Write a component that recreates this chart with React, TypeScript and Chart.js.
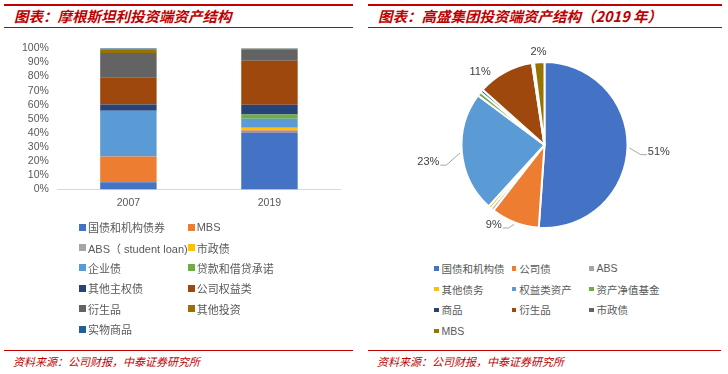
import React, { useEffect, useRef } from "react";
import { Chart, registerables } from "chart.js";

Chart.register(...registerables);

// ---------- Data: left panel (Morgan Stanley) ----------
const barCategories = ["2007", "2019"];
const barSeriesNames = [
  "国债和机构债券",
  "MBS",
  "ABS（ student loan)",
  "市政债",
  "企业债",
  "贷款和借贷承诺",
  "其他主权债",
  "公司权益类",
  "衍生品",
  "其他投资",
  "实物商品",
];
const barColors = [
  "#4472C4",
  "#ED7D31",
  "#A5A5A5",
  "#FFC000",
  "#5B9BD5",
  "#70AD47",
  "#264478",
  "#9E480E",
  "#636363",
  "#997300",
  "#255E91",
];
const values2007 = [5.0, 18.4, 0, 0, 32.3, 0, 4.4, 19.4, 17.1, 2.8, 0.6];
const values2019 = [40.4, 1.4, 0.3, 1.6, 6.3, 3.0, 7.0, 31.1, 8.2, 0.4, 0.3];
const yTickStep = 10;
const yMax = 100;

// ---------- Data: right panel (Goldman Sachs 2019) ----------
const pieLabels = [
  "国债和机构债",
  "公司债",
  "ABS",
  "其他债务",
  "权益类资产",
  "资产净值基金",
  "商品",
  "衍生品",
  "市政债",
  "MBS",
];
const pieValues = [50.8, 9.4, 0.6, 0.6, 23.3, 0.8, 0.6, 10.9, 0.4, 2.0];
const pieColors = [
  "#4472C4",
  "#ED7D31",
  "#A5A5A5",
  "#FFC000",
  "#5B9BD5",
  "#70AD47",
  "#264478",
  "#9E480E",
  "#636363",
  "#997300",
];

// label placement (style): offset of label centre from slice's outer edge midpoint
const pieLabelPlacement: ({ dx: number; dy: number; leader: boolean } | null)[] = [
  { dx: 31.4, dy: 3.8, leader: true },
  { dx: -21, dy: 2.5, leader: true },
  null,
  null,
  { dx: -33.6, dy: 9.3, leader: true },
  null,
  null,
  { dx: -24.9, dy: 0.1, leader: false },
  null,
  { dx: -0.7, dy: -9.9, leader: false },
];

const RED = "#C00000";
const LATIN = '"Liberation Sans", Arial, "Noto Sans CJK SC", sans-serif';
const CJK = '"Noto Sans CJK SC", "Liberation Sans", sans-serif';

const pieLabelPlugin = {
  id: "pieLabelPlugin",
  afterDatasetsDraw(chart: any) {
    const ctx = chart.ctx;
    const meta = chart.getDatasetMeta(0);
    const data = chart.data.datasets[0].data as number[];
    const total = data.reduce((a, b) => a + b, 0);
    ctx.save();
    ctx.font = '11px "Liberation Sans", Arial, sans-serif';
    ctx.textBaseline = "middle";
    ctx.textAlign = "center";
    meta.data.forEach((arc: any, i: number) => {
      const cfg = pieLabelPlacement[i];
      if (!cfg) return;
      const p = arc.getProps(["x", "y", "startAngle", "endAngle", "outerRadius"], true);
      const mid = (p.startAngle + p.endAngle) / 2;
      const ex = p.x + Math.cos(mid) * p.outerRadius;
      const ey = p.y + Math.sin(mid) * p.outerRadius;
      const tx = ex + cfg.dx;
      const ty = ey + cfg.dy;
      const text = Math.round((data[i] / total) * 100) + "%";
      const w = ctx.measureText(text).width;
      if (cfg.leader) {
        const side = cfg.dx > 0 ? 1 : -1;
        const nearX = tx - (side * w) / 2;
        ctx.beginPath();
        ctx.strokeStyle = "#A6A6A6";
        ctx.lineWidth = 1;
        ctx.moveTo(ex + Math.cos(mid) * 2, ey + Math.sin(mid) * 2);
        ctx.lineTo(nearX - side * 7, ty + 3);
        ctx.lineTo(nearX - side * 1, ty + 3);
        ctx.stroke();
      }
      ctx.fillStyle = "#404040";
      ctx.fillText(text, tx, ty);
    });
    ctx.restore();
  },
};

function BarChart() {
  const ref = useRef<HTMLCanvasElement | null>(null);
  useEffect(() => {
    if (!ref.current) return;
    const chart = new Chart(ref.current, {
      type: "bar",
      data: {
        labels: barCategories,
        datasets: barSeriesNames.map((name, i) => ({
          label: name,
          data: [values2007[i], values2019[i]],
          backgroundColor: barColors[i],
          borderWidth: 0,
          categoryPercentage: 1,
          barPercentage: 0.4,
        })),
      },
      options: {
        animation: false,
        responsive: false,
        maintainAspectRatio: false,
        layout: { padding: { left: 13, right: 24, top: 0, bottom: 6 } },
        plugins: { legend: { display: false }, tooltip: { enabled: false } },
        scales: {
          x: {
            stacked: true,
            grid: { display: false, drawTicks: false },
            border: { display: true, color: "#D9D9D9", width: 1 },
            ticks: {
              color: "#595959",
              font: { family: LATIN, size: 10.5 },
              padding: 7,
            },
          },
          y: {
            stacked: true,
            min: 0,
            max: yMax,
            grid: { display: false, drawTicks: false },
            border: { display: false },
            ticks: {
              stepSize: yTickStep,
              autoSkip: false,
              color: "#595959",
              font: { family: LATIN, size: 10.5 },
              padding: 9,
              callback: (v: any) => `${v}%`,
            },
          },
        },
      },
    });
    return () => chart.destroy();
  }, []);
  return (
    <canvas
      ref={ref}
      width={364}
      height={189}
      style={{ position: "absolute", left: 0, top: 33, width: 364, height: 189 }}
    />
  );
}

function PieChart() {
  const ref = useRef<HTMLCanvasElement | null>(null);
  useEffect(() => {
    if (!ref.current) return;
    const chart = new Chart(ref.current, {
      type: "pie",
      data: {
        labels: pieLabels,
        datasets: [
          {
            data: pieValues,
            backgroundColor: pieColors,
            borderColor: "#FFFFFF",
            borderWidth: 2,
          },
        ],
      },
      options: {
        animation: false,
        responsive: false,
        maintainAspectRatio: false,
        layout: { padding: { left: 96.5, right: 99.5, top: 26, bottom: 21 } },
        plugins: { legend: { display: false }, tooltip: { enabled: false } },
      },
      plugins: [pieLabelPlugin],
    });
    return () => chart.destroy();
  }, []);
  return (
    <canvas
      ref={ref}
      width={364}
      height={215}
      style={{ position: "absolute", left: 364, top: 35, width: 364, height: 215 }}
    />
  );
}

function Header({ left, width, title }: { left: number; width: number; title: string }) {
  return (
    <>
      <div style={{ position: "absolute", left, top: 4, width, height: 2, background: RED }} />
      <div
        style={{
          position: "absolute",
          left: left + 10,
          top: 7,
          height: 18,
          lineHeight: "18px",
          fontFamily: CJK,
          fontWeight: 700,
          fontStyle: "italic",
          fontSize: 14.5,
          color: RED,
          whiteSpace: "nowrap",
        }}
      >
        {title}
      </div>
      <div style={{ position: "absolute", left, top: 27, width, height: 1, background: RED }} />
    </>
  );
}

function Footer({ left, width }: { left: number; width: number }) {
  return (
    <>
      <div style={{ position: "absolute", left, top: 350, width, height: 1, background: RED }} />
      <div
        style={{
          position: "absolute",
          left: left + 9,
          top: 355,
          lineHeight: "13px",
          fontFamily: CJK,
          fontStyle: "italic",
          fontSize: 11,
          color: RED,
          whiteSpace: "nowrap",
        }}
      >
        资料来源：公司财报，中泰证券研究所
      </div>
    </>
  );
}

function Legend({
  names,
  colors,
  left,
  top,
  colWidths,
  rowHeight,
  box,
  gap,
  fontSize,
}: {
  names: string[];
  colors: string[];
  left: number;
  top: number;
  colWidths: number[];
  rowHeight: number;
  box: number;
  gap: number;
  fontSize: number;
}) {
  const cols = colWidths.length;
  return (
    <div style={{ position: "absolute", left, top }}>
      {names.map((n, i) => {
        const c = i % cols;
        const r = Math.floor(i / cols);
        const x = colWidths.slice(0, c).reduce((a, b) => a + b, 0);
        return (
          <div
            key={n}
            style={{
              position: "absolute",
              left: x,
              top: r * rowHeight,
              height: rowHeight,
              display: "flex",
              alignItems: "center",
              whiteSpace: "nowrap",
              fontFamily: LATIN,
              fontSize,
              color: "#595959",
            }}
          >
            <span
              style={{
                display: "inline-block",
                width: box,
                height: box,
                background: colors[i],
                marginRight: gap,
              }}
            />
            <span>{n}</span>
          </div>
        );
      })}
    </div>
  );
}

export default function App() {
  return (
    <div
      style={{
        position: "fixed",
        left: 0,
        top: 0,
        width: 728,
        height: 374,
        background: "#FFFFFF",
        overflow: "hidden",
      }}
    >
      <Header left={4} width={349} title="图表：摩根斯坦利投资端资产结构" />
      <Header left={368} width={354} title="图表：高盛集团投资端资产结构（2019 年）" />
      <BarChart />
      <PieChart />
      <Legend
        names={barSeriesNames}
        colors={barColors}
        left={79}
        top={217}
        colWidths={[108.7, 108.7]}
        rowHeight={20.4}
        box={7}
        gap={2}
        fontSize={11}
      />
      <Legend
        names={pieLabels}
        colors={pieColors}
        left={434}
        top={258}
        colWidths={[77.7, 77.3, 80]}
        rowHeight={20.8}
        box={4.5}
        gap={3}
        fontSize={10.5}
      />
      <Footer left={4} width={349} />
      <Footer left={368} width={353} />
    </div>
  );
}
